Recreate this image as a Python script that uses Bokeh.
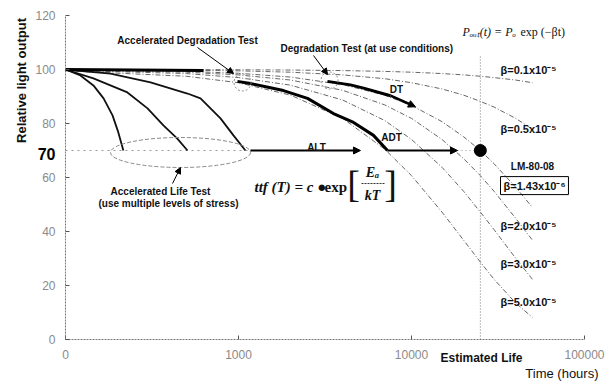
from math import pi, nan
from bokeh.plotting import figure
from bokeh.models import FixedTicker, Label, Arrow, NormalHead
from bokeh.embed import file_html
from bokeh.resources import INLINE

# ---------------- data ----------------
x_ticks = [100, 1000, 10000, 100000]
x_tick_labels = {100: "0", 1000: "1000", 10000: "10000", 100000: "100000"}
y_ticks = [0, 20, 40, 60, 80, 100, 120]

# exponential lumen-maintenance curves (hours, % light output)
t_grid = [100, 500, 1000, 2000, 4000, 7000, 10000, 15000, 20000, 25000, 30000, 40000, 50000]
beta_01 = [100, 99.95, 99.9, 99.8, 99.6, 99.3, 99.0, 98.5, 98.0, 97.5, 97.0, 96.1, 95.1]
beta_05 = [100, 99.75, 99.5, 99.0, 98.0, 96.6, 95.1, 92.8, 90.5, 88.2, 86.1, 81.9, 77.9]
beta_143 = [99.9, 99.3, 98.6, 97.2, 94.4, 90.5, 86.7, 80.7, 75.1, 70.0, 65.1, 56.4, 48.9]
beta_20 = [99.8, 99.0, 98.0, 96.1, 92.3, 86.9, 81.9, 74.1, 67.0, 60.7, 54.9, 44.9, 36.8]
beta_30 = [99.7, 98.5, 97.0, 94.2, 88.7, 81.1, 74.1, 63.8, 54.9, 47.2, 40.7, 30.1, 22.3]
beta_50 = [99.5, 97.5, 95.1, 90.5, 81.9, 70.5, 60.7, 47.2, 36.8, 28.7, 22.3, 13.5, 8.2]
beta_series = [beta_01, beta_05, beta_143, beta_20, beta_30, beta_50]
beta_labels = ["β=0.1x10⁻⁵", "β=0.5x10⁻⁵", "β=1.43x10⁻⁶", "β=2.0x10⁻⁵", "β=3.0x10⁻⁵", "β=5.0x10⁻⁵"]
beta_label_y = [100, 78, 57, 42, 28, 14]

# accelerated life test curves (solid black)
alt1_t = [100, 122, 145, 166, 187, 202, 216]
alt1_v = [100, 97.8, 94.1, 89.3, 83.0, 76.7, 70]
alt2_t = [100, 145, 228, 298, 368, 443, 507]
alt2_v = [100, 96.7, 91.5, 85.6, 79.3, 74.4, 70]
alt3_t = [100, 182, 310, 507, 603, 787, 935, 1096]
alt3_v = [100, 98.5, 95.2, 91.1, 89.3, 81.9, 75.6, 70]

# accelerated degradation test (thick)
adt_t = [100, 628, nan, 986, 1172, 1819, 2506, 3540, 4624, 6030, 7265]
adt_v = [100, 99.6, nan, 95.6, 94.8, 92.2, 89.3, 83.7, 80.4, 75.6, 70]

# degradation test at use conditions (thick)
dt_t = [3266, 4436, 5286, 7570, 10540]
dt_v = [95.6, 94.3, 93.1, 90.3, 86.2]

alt_arrow_t = [1172, 5070]
adt_arrow_t = [7265, 18450]
l70 = 70
est_life = 25000
est_line_v = [0, 105]

# ---------------- helpers for annotation placement (page pixels -> data) ----------------
def X(px):
    return 10 ** (2 + (px - 65) / 173.0)

def Y(py):
    return (339 - py) / 2.7

SANS = "Liberation Sans"
SERIF = "Liberation Serif"
W, H = 611, 386

# the frame covers the whole canvas; the axes are pinned at x=100 h and y=0 %
p = figure(width=W, height=H, x_axis_type="log", x_range=(X(0), X(W)), y_range=(Y(H), Y(0)),
           output_backend="svg", toolbar_location=None, min_border=0)
p.outline_line_color = None
p.grid.visible = False

for ax in (p.xaxis[0], p.yaxis[0]):
    ax.axis_line_color = "#777"
    ax.axis_line_dash = "2 1"
    ax.major_tick_in = 4
    ax.major_tick_out = 0
    ax.major_tick_line_color = "#555"
    ax.minor_tick_line_color = None
    ax.major_label_text_color = "#8a8a8a"
    ax.major_label_text_font = SANS
    ax.major_label_text_font_size = "12px"
    ax.major_label_standoff = 10

p.xaxis.ticker = FixedTicker(ticks=x_ticks)
p.xaxis.major_label_overrides = x_tick_labels
p.xaxis.fixed_location = y_ticks[0]
p.xaxis.bounds = (x_ticks[0], x_ticks[-1])
p.yaxis.ticker = FixedTicker(ticks=y_ticks)
p.yaxis.fixed_location = x_ticks[0]
p.yaxis.bounds = (y_ticks[0], y_ticks[-1])

# beta curves (grey dash-dot)
for vals in beta_series:
    p.line(t_grid, vals, line_color="#666", line_width=1, line_dash="5 2 1 2")

# L70 guide lines
p.line([alt1_t[0], alt_arrow_t[0]], [l70, l70], line_color="#999", line_width=1, line_dash="2 4")
p.line([adt_arrow_t[1], est_life], [l70, l70], line_color="#999", line_width=1, line_dash="1 3")
p.line([est_life, est_life], est_line_v, line_color="#777", line_width=1, line_dash="1 2")

# ALT curves
for tt, vv in ((alt1_t, alt1_v), (alt2_t, alt2_v), (alt3_t, alt3_v)):
    p.line(tt, vv, line_color="#111", line_width=1.8)

# ADT & DT thick curves
p.line(adt_t, adt_v, line_color="#000", line_width=3)
p.line(dt_t[:-1], dt_v[:-1], line_color="#000", line_width=3)

head = lambda: NormalHead(size=7, fill_color="black", line_color="black")
p.add_layout(Arrow(end=head(), x_start=dt_t[-2], y_start=dt_v[-2], x_end=dt_t[-1], y_end=dt_v[-1],
                   line_width=2.5, line_color="black"))
p.add_layout(Arrow(end=head(), x_start=alt_arrow_t[0], y_start=l70, x_end=alt_arrow_t[1], y_end=l70,
                   line_width=2, line_color="black"))
p.add_layout(Arrow(end=head(), x_start=adt_arrow_t[0], y_start=l70, x_end=adt_arrow_t[1], y_end=l70,
                   line_width=2, line_color="black"))

# estimated life dot
p.scatter([est_life], [l70], size=12, color="black")

# dashed circles / ellipse
p.ellipse(x=[X(180)], y=[Y(152)], width=140, height=30, width_units="screen", height_units="screen",
          fill_color=None, line_color="#888", line_dash="4 2", line_width=1)
p.scatter([X(242), X(329)], [Y(82), Y(80)], size=17, fill_color=None, line_color="#888",
          line_dash="2 2", line_width=1)

# pointer arrows
for (x0, y0, x1, y1) in ((197, 47, 233, 73), (313, 55, 327, 74), (172, 183, 180, 167)):
    p.add_layout(Arrow(end=NormalHead(size=6, fill_color="black", line_color="black"),
                       x_start=X(x0), y_start=Y(y0), x_end=X(x1), y_end=Y(y1),
                       line_width=1, line_color="black"))

def lab(text, px, py, size="10px", align="center", style="bold", font=SANS, color="#111", **kw):
    p.add_layout(Label(x=X(px), y=Y(py), text=text, text_align=align, text_baseline="middle",
                       text_font_size=size, text_font_style=style, text_font=font,
                       text_color=color, **kw))

lab("Accelerated Degradation Test", 187, 40)
lab("Degradation Test (at use conditions)", 280, 48, align="left")
lab("Accelerated Life Test", 160, 191)
lab("(use multiple levels of stress)", 168, 203)
lab("ALT", 316, 147)
lab("ADT", 391, 137)
lab("DT", 396, 89)

# beta labels
for i, (txt, vy) in enumerate(zip(beta_labels, beta_label_y)):
    if i == 2:
        lab("LM-80-08", 532, 339 - 64 * 2.7, size="10px")
        p.add_layout(Label(x=X(500), y=vy, text=txt, text_align="left", text_baseline="middle",
                           text_font_size="11px", text_font_style="bold", text_font=SANS,
                           text_color="#111", border_line_color="black", border_line_width=1,
                           padding=3))
    else:
        p.add_layout(Label(x=X(500), y=vy, text=txt, text_align="left", text_baseline="middle",
                           text_font_size="11px", text_font_style="bold", text_font=SANS,
                           text_color="#111"))

# formulas
lab("Pₒᵤₜ(t) = Pₒ", 462, 31, size="12px", align="left", style="italic", font=SERIF)
lab("exp (−βt)", 520, 31, size="12px", align="left", style="normal", font=SERIF)
lab("ttf (T) = c ●", 254, 186, size="15px", align="left", style="bold italic", font=SERIF)
lab("exp", 324, 186, size="15px", align="left", style="bold", font=SERIF)
lab("[", 353, 183, size="38px", style="normal", font=SERIF)
lab("]", 390, 183, size="38px", style="normal", font=SERIF)
lab("Eₐ", 372, 172, size="14px", style="bold italic", font=SERIF)
lab("kT", 372, 195, size="14px", style="bold italic", font=SERIF)
p.segment(x0=[X(361)], y0=[Y(183)], x1=[X(384)], y1=[Y(183)], line_color="#333", line_width=1,
          line_dash="2 1")

# axis texts
lab("70", 55, 153, size="16px", align="right", color="#000")
lab("Relative light output", 21, 80, size="13px", angle=pi / 2)
lab("Estimated Life", 481, 357, size="12px")
lab("Time (hours)", 598, 373, size="13px", align="right", style="normal")

open("out.html", "w").write(file_html(p, INLINE))
